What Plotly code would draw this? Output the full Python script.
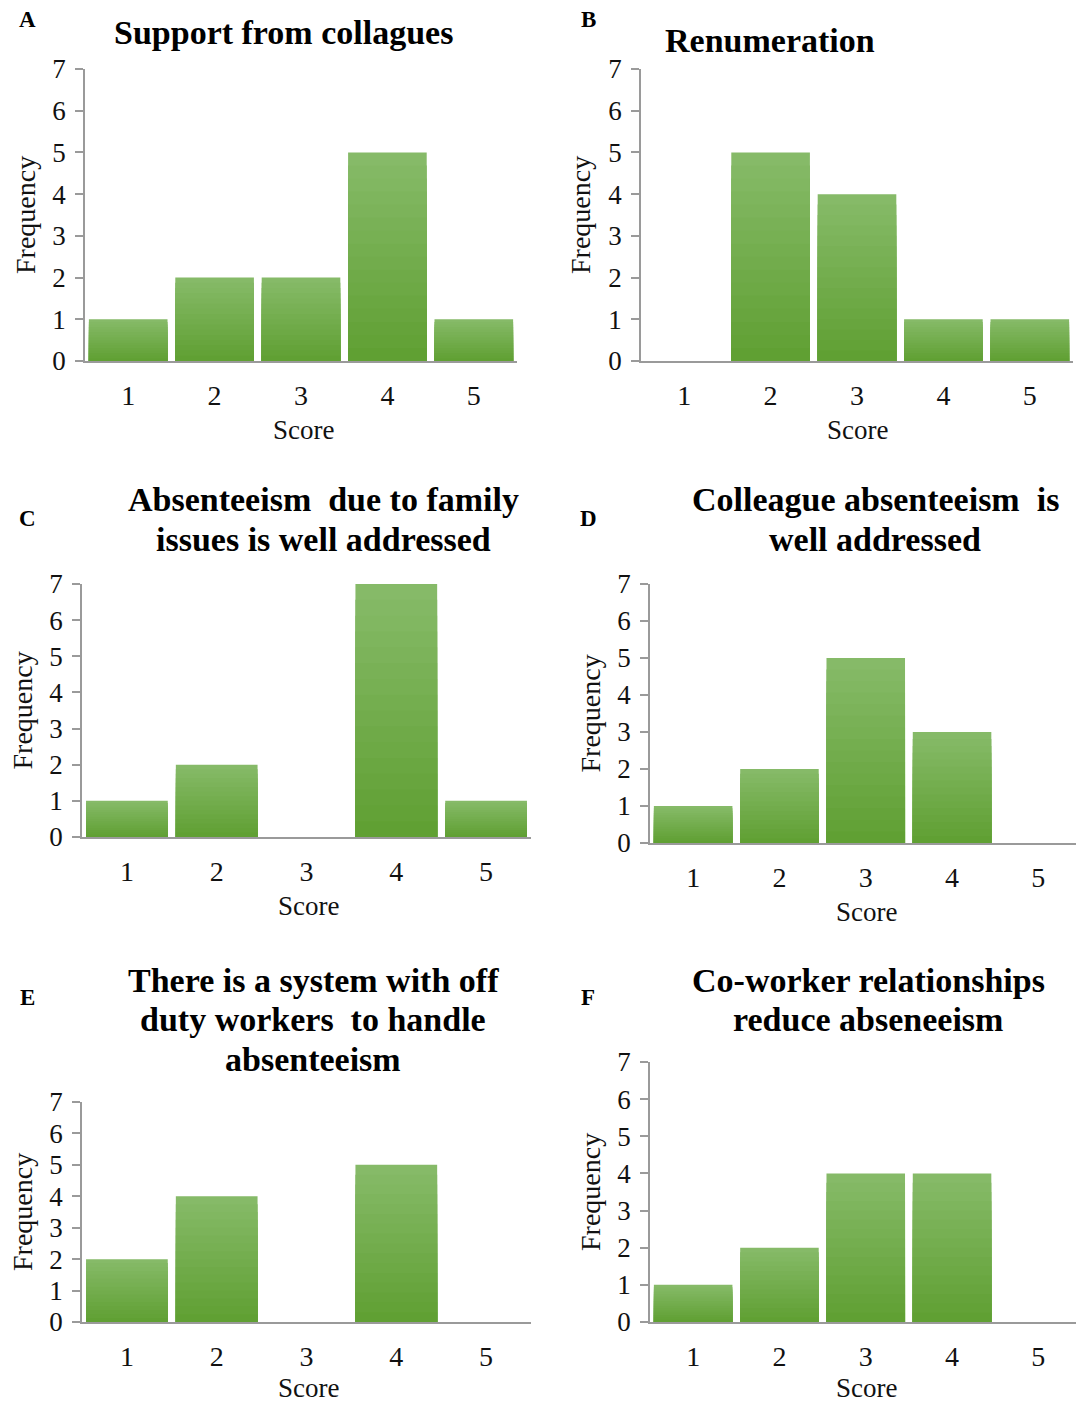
import plotly.graph_objects as go

W, H = 1076, 1405

scores = [1, 2, 3, 4, 5]
y_ticks = [0, 1, 2, 3, 4, 5, 6, 7]

freq_A = [1, 2, 2, 5, 1]
freq_B = [0, 5, 4, 1, 1]
freq_C = [1, 2, 0, 7, 1]
freq_D = [1, 2, 5, 3, 0]
freq_E = [2, 4, 0, 5, 0]
freq_F = [1, 2, 4, 4, 0]

title_A = ["Support from collagues"]
title_B = ["Renumeration"]
title_C = ["Absenteeism  due to family", "issues is well addressed"]
title_D = ["Colleague absenteeism  is", "well addressed"]
title_E = ["There is a system with off", "duty workers  to handle", "absenteeism"]
title_F = ["Co-worker relationships", "reduce abseneeism"]

# layout geometry in pixels (not data)
panels = [
    dict(letter="A", data=freq_A, title=title_A, x0=85, x1=517, ytop=69, ybot=361, cw=86.4,
         tx=283, ty=33, lx=27, ly=20, sx=303, sy=430, fx=25),
    dict(letter="B", data=freq_B, title=title_B, x0=641, x1=1073, ytop=69, ybot=361, cw=86.4,
         tx=770, ty=40, lx=588, ly=20, sx=857, sy=430, fx=580),
    dict(letter="C", data=freq_C, title=title_C, x0=82, x1=531, ytop=584, ybot=837, cw=89.8,
         tx=323, ty=500, lx=27, ly=518, sx=308, sy=906, fx=22),
    dict(letter="D", data=freq_D, title=title_D, x0=650, x1=1076, ytop=584, ybot=843, cw=86.3,
         tx=875, ty=500, lx=588, ly=518, sx=866, sy=912, fx=590),
    dict(letter="E", data=freq_E, title=title_E, x0=82, x1=531, ytop=1102, ybot=1322, cw=89.8,
         tx=313, ty=980, lx=27, ly=998, sx=308, sy=1388, fx=22),
    dict(letter="F", data=freq_F, title=title_F, x0=650, x1=1076, ytop=1062, ybot=1322, cw=86.3,
         tx=868, ty=980, lx=588, ly=998, sx=866, sy=1388, fx=590),
]
TITLE_LINE_GAP = 39.5

SERIF = "Liberation Serif, Times New Roman, serif"
AXIS_GRAY = "#9a9a9a"

top_rgb = (0x86, 0xBA, 0x68)
bot_rgb = (0x60, 0xA0, 0x33)
N_LAYERS = 16


def lerp_color(t):
    r = round(top_rgb[0] + (bot_rgb[0] - top_rgb[0]) * t)
    g = round(top_rgb[1] + (bot_rgb[1] - top_rgb[1]) * t)
    b = round(top_rgb[2] + (bot_rgb[2] - top_rgb[2]) * t)
    return f"rgb({r},{g},{b})"


fig = go.Figure()
annotations = []

for i, p in enumerate(panels, start=1):
    xa = "x" if i == 1 else f"x{i}"
    ya = "y" if i == 1 else f"y{i}"
    # gradient bars: overlaid layers, each a fraction of the bar's value
    for k in range(N_LAYERS):
        frac = (N_LAYERS - k) / N_LAYERS
        fig.add_trace(go.Bar(
            x=scores, y=[v * frac for v in p["data"]],
            xaxis=xa, yaxis=ya,
            marker=dict(color=lerp_color(k / (N_LAYERS - 1)), line=dict(width=0)),
            showlegend=False, hoverinfo="skip" if k else "x+y",
        ))
    xdom = [p["x0"] / W, p["x1"] / W]
    ydom = [1 - p["ybot"] / H, 1 - p["ytop"] / H]
    xmax = 0.5 + (p["x1"] - p["x0"]) / p["cw"]
    xkey = "xaxis" if i == 1 else f"xaxis{i}"
    ykey = "yaxis" if i == 1 else f"yaxis{i}"
    fig.update_layout(**{
        xkey: dict(domain=xdom, anchor=ya, range=[0.5, xmax], tickvals=scores,
                   ticktext=[str(s) for s in scores], showgrid=False, zeroline=False,
                   showline=True, linecolor=AXIS_GRAY, linewidth=1.5, ticks="",
                   ticklabelstandoff=9, automargin=False,
                   tickfont=dict(family=SERIF, size=28, color="#111")),
        ykey: dict(domain=ydom, anchor=xa, range=[0, 7], tickvals=y_ticks,
                   showgrid=False, zeroline=False, showline=True, linecolor=AXIS_GRAY,
                   linewidth=1.5, ticks="outside", ticklen=8, tickcolor=AXIS_GRAY,
                   tickwidth=1.5, ticklabelstandoff=4, automargin=False,
                   tickfont=dict(family=SERIF, size=27, color="#111")),
    })
    # panel title, one annotation per line
    for j, line in enumerate(p["title"]):
        annotations.append(dict(
            x=p["tx"] / W, y=1 - (p["ty"] + j * TITLE_LINE_GAP) / H, xref="paper", yref="paper",
            text=line, showarrow=False, xanchor="center", yanchor="middle",
            font=dict(family=SERIF, size=34, color="#000", weight="bold"),
        ))
    # panel letter
    annotations.append(dict(
        x=p["lx"] / W, y=1 - p["ly"] / H, xref="paper", yref="paper",
        text=p["letter"], showarrow=False, xanchor="center", yanchor="middle",
        font=dict(family=SERIF, size=23, color="#000", weight="bold"),
    ))
    # x axis title
    annotations.append(dict(
        x=p["sx"] / W, y=1 - p["sy"] / H, xref="paper", yref="paper",
        text="Score", showarrow=False, xanchor="center", yanchor="middle",
        font=dict(family=SERIF, size=27, color="#111"),
    ))
    # y axis title
    annotations.append(dict(
        x=p["fx"] / W, y=1 - ((p["ytop"] + p["ybot"]) / 2) / H, xref="paper", yref="paper",
        text="Frequency", showarrow=False, xanchor="center", yanchor="middle", textangle=-90,
        font=dict(family=SERIF, size=28, color="#111"),
    ))

fig.update_layout(
    width=W, height=H, margin=dict(l=0, r=0, t=0, b=0, pad=0, autoexpand=False),
    paper_bgcolor="white", plot_bgcolor="white",
    barmode="overlay", bargap=0.09, showlegend=False,
    annotations=annotations,
)

fig.write_html(
    "out.html",
    config={"displayModeBar": False},
    post_script="document.body.style.margin='0';document.body.style.overflow='hidden';",
)
